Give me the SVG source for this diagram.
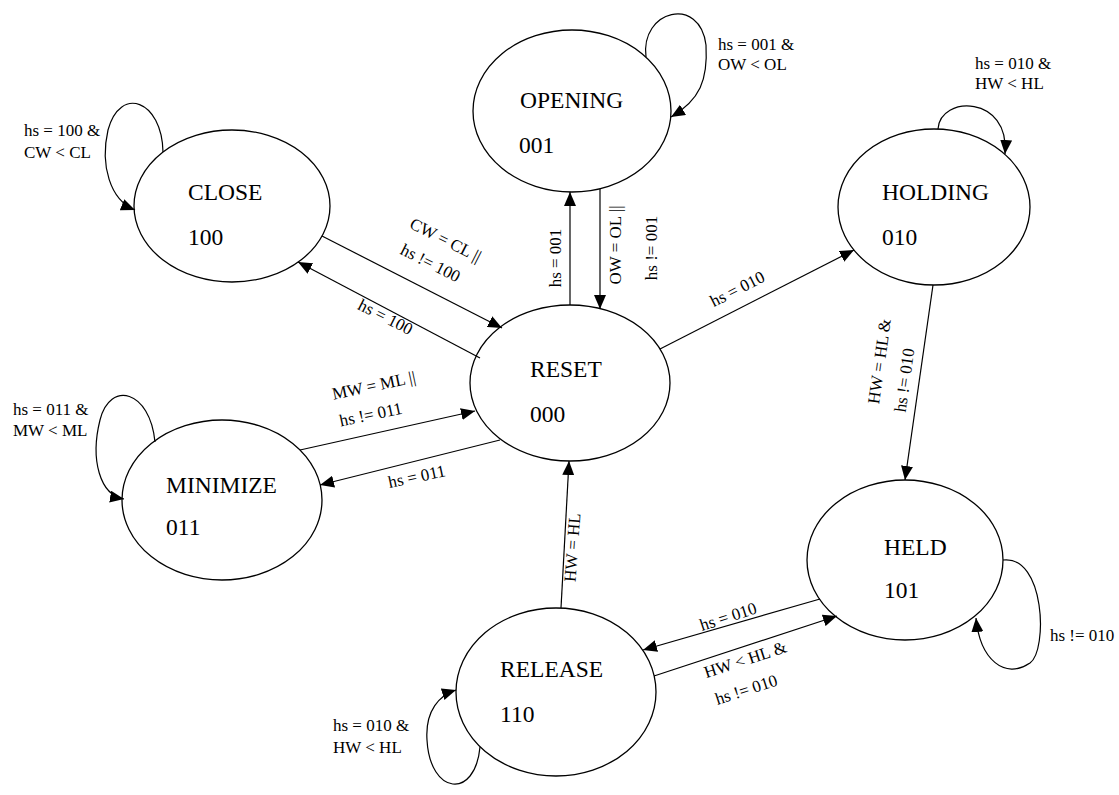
<svg xmlns="http://www.w3.org/2000/svg" width="1119" height="795" viewBox="0 0 1119 795">
<style>
.st{fill:#fff;stroke:#000;stroke-width:1.3}
.nm{font-family:"Liberation Serif",serif;font-size:23.5px;fill:#000}
.lb{font-family:"Liberation Serif",serif;font-size:17px;fill:#000}
.ed{fill:none;stroke:#000;stroke-width:1.2;marker-end:url(#ah)}
</style>
<defs>
<marker id="ah" markerUnits="userSpaceOnUse" markerWidth="16" markerHeight="12" refX="14" refY="6" orient="auto">
<path d="M0,0 L14,6 L0,12 Z" fill="#000"/>
</marker>
</defs>
<rect width="1119" height="795" fill="#fff"/>
<g id="opening"><ellipse class="st" cx="572" cy="111" rx="99" ry="81"/><text class="nm" x="520" y="108">OPENING</text><text class="nm" x="519" y="153">001</text></g>
<g id="close"><ellipse class="st" cx="232" cy="206" rx="98" ry="76"/><text class="nm" x="188" y="200">CLOSE</text><text class="nm" x="188" y="245">100</text></g>
<g id="holding"><ellipse class="st" cx="934" cy="207" rx="96" ry="78"/><text class="nm" x="882" y="200">HOLDING</text><text class="nm" x="882" y="245">010</text></g>
<g id="reset"><ellipse class="st" cx="570" cy="383" rx="100" ry="78"/><text class="nm" x="530" y="377">RESET</text><text class="nm" x="530" y="422">000</text></g>
<g id="minimize"><ellipse class="st" cx="222" cy="500" rx="100" ry="80"/><text class="nm" x="166" y="493">MINIMIZE</text><text class="nm" x="166" y="535">011</text></g>
<g id="held"><ellipse class="st" cx="905" cy="560" rx="98" ry="80"/><text class="nm" x="884" y="555">HELD</text><text class="nm" x="884" y="598">101</text></g>
<g id="release"><ellipse class="st" cx="556" cy="692" rx="100" ry="84"/><text class="nm" x="500" y="677">RELEASE</text><text class="nm" x="500" y="722">110</text></g>
<g id="connectors">
<path class="ed" d="M570,305 L570,192"/>
<path class="ed" d="M600,189 L600,309"/>
<path class="ed" d="M322,236 L502,328"/>
<path class="ed" d="M480,358 L298,262"/>
<path class="ed" d="M660,349 L854,250"/>
<path class="ed" d="M933,285 L905,480"/>
<path class="ed" d="M300,450 L475,411"/>
<path class="ed" d="M500,440 L320,485"/>
<path class="ed" d="M561,608 L569,461"/>
<path class="ed" d="M820,599 L643,650"/>
<path class="ed" d="M654,676 L837,616"/>
<path class="ed" d="M646,57 C640,10 700,-5 706,45 C708,80 700,100 671,117"/>
<path class="ed" d="M163,152 C162,100 120,85 108,130 C100,165 110,200 135,210"/>
<path class="ed" d="M938,129 C940,95 1010,95 1005,154"/>
<path class="ed" d="M155,442 C150,390 110,380 100,420 C90,460 100,495 124,499"/>
<path class="ed" d="M1003,560 C1045,555 1048,650 1030,663 C1005,680 980,660 976,618"/>
<path class="ed" d="M480,747 C475,800 430,795 427,740 C425,710 440,695 456,690"/>
</g>
<g id="labels">
<text class="lb" x="718" y="50">hs = 001 &amp;</text><text class="lb" x="718" y="70">OW &lt; OL</text>
<text class="lb" x="24" y="136">hs = 100 &amp;</text><text class="lb" x="24" y="158">CW &lt; CL</text>
<text class="lb" x="975" y="69">hs = 010 &amp;</text><text class="lb" x="975" y="89">HW &lt; HL</text>
<text class="lb" x="13" y="415">hs = 011 &amp;</text><text class="lb" x="13" y="436">MW &lt; ML</text>
<text class="lb" x="1050" y="641">hs != 010</text>
<text class="lb" x="333" y="731">hs = 010 &amp;</text><text class="lb" x="333" y="753">HW &lt; HL</text>
<text class="lb" text-anchor="middle" transform="translate(561,258) rotate(-90)">hs = 001</text>
<text class="lb" text-anchor="middle" transform="translate(621,245) rotate(-90)">OW = OL ||</text>
<text class="lb" text-anchor="middle" transform="translate(657,248) rotate(-90)">hs != 001</text>
<text class="lb" text-anchor="middle" transform="translate(443,245) rotate(27)">CW = CL ||</text>
<text class="lb" text-anchor="middle" transform="translate(428,268) rotate(27)">hs != 100</text>
<text class="lb" text-anchor="middle" transform="translate(383,322) rotate(27)">hs = 100</text>
<text class="lb" text-anchor="middle" transform="translate(740,294) rotate(-27)">hs = 010</text>
<text class="lb" text-anchor="middle" transform="translate(885,362) rotate(-82)">HW = HL &amp;</text>
<text class="lb" text-anchor="middle" transform="translate(910,381) rotate(-82)">hs != 010</text>
<text class="lb" text-anchor="middle" transform="translate(375,391) rotate(-12)">MW = ML ||</text>
<text class="lb" text-anchor="middle" transform="translate(372,420) rotate(-12)">hs != 011</text>
<text class="lb" text-anchor="middle" transform="translate(418,482) rotate(-12)">hs = 011</text>
<text class="lb" text-anchor="middle" transform="translate(578,548) rotate(-86)">HW = HL</text>
<text class="lb" text-anchor="middle" transform="translate(730,622) rotate(-18)">hs = 010</text>
<text class="lb" text-anchor="middle" transform="translate(747,665) rotate(-18)">HW &lt; HL &amp;</text>
<text class="lb" text-anchor="middle" transform="translate(748,695) rotate(-18)">hs != 010</text>
</g>
</svg>
